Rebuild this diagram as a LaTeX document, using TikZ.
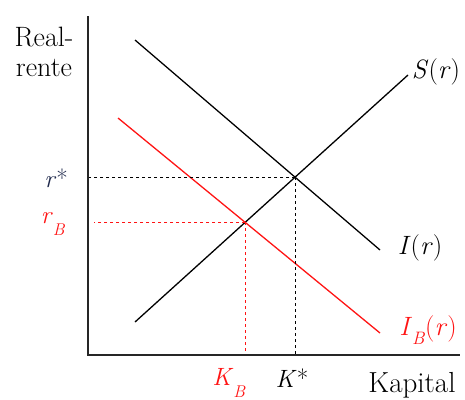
\documentclass[tikz,border=0pt]{standalone}
\usetikzlibrary{intersections}
\definecolor{redline}{RGB}{255,20,20}
\definecolor{navy}{RGB}{30,40,75}
\begin{document}
\begin{tikzpicture}[x=1pt,y=-1pt,
  axis/.style={line width=2pt,draw=black!85},
  curve/.style={line width=1.3pt},
  guide/.style={line width=1.1pt,dash pattern=on 3pt off 3pt},
  lbl/.style={inner sep=0pt,font=\fontsize{26.5}{30}\selectfont},
  sml/.style={inner sep=0pt,font=\fontsize{25}{28}\selectfont}]
\useasboundingbox (0,0) rectangle (465,399);
\coordinate (O) at (88,355);
\coordinate (ytop) at (88,16);
\coordinate (xend) at (460,355);
\coordinate (S1) at (135,322);
\coordinate (S2) at (408,75);
\coordinate (I1) at (135,40);
\coordinate (I2) at (380,250);
\coordinate (B1) at (118,118);
\coordinate (B2) at (380,333);
\draw[curve,name path=S] (S1) -- (S2);
\draw[curve,name path=I] (I1) -- (I2);
\draw[curve,draw=redline,name path=IB] (B1) -- (B2);
\path[name intersections={of=S and I,by=E}];
\path[name intersections={of=S and IB,by=EB}];
\draw[guide] (E) -- (E -| O);
\draw[guide] (E) -- (E |- O);
\draw[guide,draw=redline] (EB) -- ([xshift=6pt]EB -| O);
\draw[guide,draw=redline] (EB) -- ([yshift=4pt]EB |- O);
\draw[axis] (ytop) -- (O) -- (xend);
\node[lbl,align=center,font=\fontsize{28}{30}\selectfont] (real) at (44,52) {Real-\\rente};
\node[sml,text=navy] (rstar) at (56,178) {\textit{r}*};
\node[sml,text=redline] (rB) at (53,224) {\textit{r}\raisebox{-0.5em}{\fontsize{17}{17}\selectfont\textit{B}}};
\node[sml,text=redline] (KB) at (229,383) {\textit{K}\raisebox{-0.45em}{\fontsize{17}{17}\selectfont\textit{B}}};
\node[sml] (Kstar) at (292,378) {\textit{K}*};
\node[lbl,font=\fontsize{29}{30}\selectfont] (kap) at (412,385) {Kapital};
\node[lbl] (Sr) at (436,72) {\textit{S}(\textit{r})};
\node[lbl] (Ir) at (420,248) {\textit{I}(\textit{r})};
\node[lbl,text=redline] (IBr) at (428,330) {\textit{I}\raisebox{-0.35em}{\fontsize{18}{18}\selectfont\textit{B}}(\textit{r})};
\end{tikzpicture}
\end{document}
